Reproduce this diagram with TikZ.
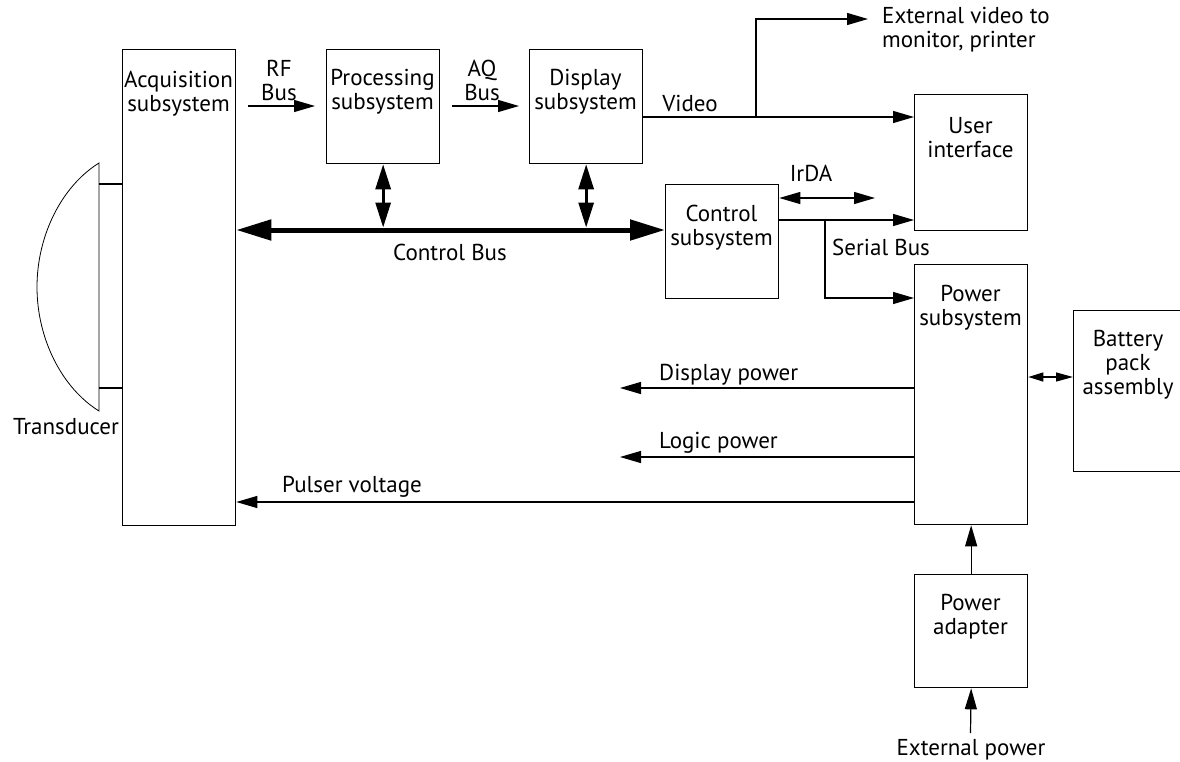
\documentclass[tikz,border=0pt]{standalone}
\usepackage{fontspec}
\setmainfont{PT Sans}
\usetikzlibrary{arrows.meta}
\begin{document}
\begin{tikzpicture}[x=1pt,y=-1pt,
  every node/.style={font=\fontsize{23}{24}\selectfont},
  box/.style={draw,line width=1.3pt,anchor=north west,inner sep=0pt},
  lbl/.style={align=center,inner sep=0pt},
  lbll/.style={align=left,inner sep=0pt,anchor=west},
  conn/.style={line width=1.2pt},
  arr/.style={conn,-{Triangle[length=21pt,width=12pt]}},
  darr/.style={conn,{Triangle[length=21pt,width=12pt]}-{Triangle[length=21pt,width=12pt]}},
  sdarr/.style={conn,{Triangle[length=15pt,width=9pt]}-{Triangle[length=17pt,width=9pt]}},
  vbus/.style={line width=3pt,{Triangle[length=25pt,width=15pt]}-{Triangle[length=25pt,width=15pt]}},
  cbus/.style={line width=5pt,{Triangle[length=35pt,width=20pt]}-{Triangle[length=35pt,width=20pt]}}
]
\clip (0,0) rectangle (1180,761);
\fill[white] (0,0) rectangle (1180,761);

% boxes
\node[box,minimum width=113pt,minimum height=476pt] (acq) at (122,49) {};
\node[box,minimum width=113pt,minimum height=114pt] (proc) at (326,49) {};
\node[box,minimum width=113pt,minimum height=114pt] (disp) at (529,49) {};
\node[box,minimum width=113pt,minimum height=136pt] (ui) at (914,94) {};
\node[box,minimum width=113pt,minimum height=114pt] (ctrl) at (665,184) {};
\node[box,minimum width=113pt,minimum height=260pt] (pwr) at (914,264) {};
\node[box,minimum width=130pt,minimum height=161pt] (batt) at (1073,310) {};
\node[box,minimum width=113pt,minimum height=113pt] (adapt) at (914,574) {};

% box texts
\node[lbl] (tacq) at (178.5,93.5) {Acquisition\\subsystem};
\node[lbl] (tproc) at (382.5,92) {Processing\\subsystem};
\node[lbl] (tdisp) at (585.5,92) {Display\\subsystem};
\node[lbl] (tui) at (970.5,138) {User\\interface};
\node[lbl] (tctrl) at (721.5,228) {Control\\subsystem};
\node[lbl] (tpwr) at (970.5,307.5) {Power\\subsystem};
\node[lbl] (tbatt) at (1128,365) {Battery\\pack\\assembly};
\node[lbl] (tadapt) at (970.5,617) {Power\\adapter};

% transducer
\coordinate (tr1) at (99,163);
\coordinate (tr2) at (99,411);
\draw[line width=0.8pt] (tr1) .. controls (62,186) and (37,235) .. (37,287)
  .. controls (37,339) and (62,388) .. (tr2) -- cycle;
\coordinate (tra) at (99,184);
\coordinate (trb) at (99,388);
\draw[conn] (tra) -- (acq.west |- tra);
\draw[conn] (trb) -- (acq.west |- trb);
\node[lbl] (ttr) at (66,427) {Transducer};

% RF / AQ bus
\coordinate (busy) at (0,106);
\draw[arr] ([xshift=12pt]acq.east |- busy) -- ([xshift=-11pt]proc.west |- busy);
\draw[arr] ([xshift=12pt]proc.east |- busy) -- ([xshift=-10pt]disp.west |- busy);
\node[lbl] (trf) at (279,80) {RF\\Bus};
\node[lbl] (taq) at (482,80) {AQ\\Bus};

% control bus
\coordinate (cby) at (0,230);
\draw[cbus] (acq.east |- cby) -- (ctrl.west |- cby);
\draw[vbus] (proc.south) -- ([yshift=2.5pt]proc.south |- cby);
\draw[vbus] (disp.south) -- ([yshift=2.5pt]disp.south |- cby);
\node[lbl] (tcb) at (450,252) {Control Bus};

% video
\coordinate (vy) at (0,117);
\coordinate (vbr) at (756,117);
\coordinate (ext) at (868,19);
\draw[arr] (disp.east |- vy) -- (ui.west |- vy);
\draw[arr] (vbr) |- (ext);
\node[lbl] (tvid) at (690,103) {Video};
\node[lbll] (text) at (882,29.5) {External video to\\monitor, printer};

% IrDA and serial bus
\coordinate (iry) at (0,198);
\coordinate (ire) at (875,198);
\draw[darr] (ctrl.east |- iry) -- (ire);
\node[lbl] (tir) at (811,173) {IrDA};
\coordinate (sy) at (0,220);
\coordinate (sbr) at (825,220);
\coordinate (spy) at (0,298);
\draw[arr] (ctrl.east |- sy) -- (ui.west |- sy);
\draw[arr] (sbr) |- (pwr.west |- spy);
\node[lbll] (tser) at (832,247) {Serial Bus};

% power outputs
\coordinate (dpy) at (0,388);
\coordinate (dpe) at (620,388);
\coordinate (lpy) at (0,457);
\coordinate (lpe) at (620,457);
\coordinate (pvy) at (0,502);
\draw[arr] (pwr.west |- dpy) -- (dpe);
\draw[arr] (pwr.west |- lpy) -- (lpe);
\draw[arr] (pwr.west |- pvy) -- (acq.east |- pvy);
\node[lbll] (tdp) at (659,375) {Display power};
\node[lbll] (tlp) at (659,443) {Logic power};
\node[lbll] (tpv) at (282,487) {Pulser voltage};

% battery
\coordinate (by) at (0,377);
\draw[sdarr] (pwr.east |- by) -- (batt.west |- by);

% adapter
\coordinate (epw) at (970.5,733);
\draw[arr] (adapt.north) -- (pwr.south);
\draw[arr] (epw) -- (adapt.south);
\node[lbl] (tep) at (971,750) {External power};
\end{tikzpicture}
\end{document}
